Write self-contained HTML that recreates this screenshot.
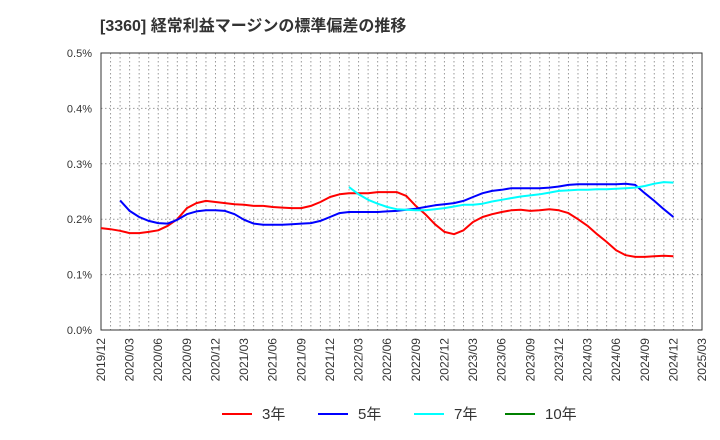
<!DOCTYPE html>
<html><head><meta charset="utf-8"><style>
body{margin:0;background:#fff;}
svg{display:block;font-family:"Liberation Sans","Noto Sans CJK JP",sans-serif;}
</style></head><body>
<svg id="chart" width="720" height="440" viewBox="0 0 720 440">
<text x="100" y="31" font-size="16" font-weight="bold" fill="#333">[3360]  経常利益マージンの標準偏差の推移</text>
<g id="grid"></g>
<g id="axes"></g>
<g id="series"></g>
<g id="legend"></g>
</svg>
<script>
const xLabels=["2019/12","2020/03","2020/06","2020/09","2020/12","2021/03","2021/06","2021/09","2021/12","2022/03","2022/06","2022/09","2022/12","2023/03","2023/06","2023/09","2023/12","2024/03","2024/06","2024/09","2024/12","2025/03"];
const yTicks=[0,0.1,0.2,0.3,0.4,0.5];
const yTickLabels=["0.0%","0.1%","0.2%","0.3%","0.4%","0.5%"];
const s3=[.184,.182,.179,.175,.175,.177,.180,.188,.200,.220,.229,.233,.231,.229,.227,.226,.224,.224,.222,.221,.220,.220,.224,.231,.240,.245,.247,.247,.247,.249,.249,.249,.242,.224,.209,.191,.177,.173,.180,.195,.204,.209,.213,.216,.217,.215,.216,.218,.216,.211,.200,.188,.173,.159,.144,.135,.132,.132,.133,.134,.133];
const s5=[null,null,.234,.215,.204,.197,.193,.192,.199,.209,.214,.216,.216,.215,.209,.199,.192,.190,.190,.190,.191,.192,.193,.197,.204,.211,.213,.213,.213,.213,.214,.215,.217,.219,.222,.225,.227,.229,.233,.240,.247,.251,.253,.256,.256,.256,.256,.257,.259,.262,.263,.263,.263,.263,.263,.264,.262,.247,.233,.218,.204];
const s7=[null,null,null,null,null,null,null,null,null,null,null,null,null,null,null,null,null,null,null,null,null,null,null,null,null,null,.258,.245,.235,.228,.222,.218,.217,.216,.216,.218,.220,.223,.226,.226,.228,.232,.235,.238,.241,.243,.245,.248,.251,.252,.253,.253,.254,.254,.255,.256,.257,.260,.264,.267,.266];
const s10=[];
const legendNames=["3年","5年","7年","10年"];
const colors=["#ff0000","#0000ff","#00ffff","#008000"];
const L=101,R=702,T=53,B=330,ymax=0.5,months=63;
const xs=m=>L+(R-L)*m/months;
const ys=v=>B-(B-T)*v/ymax;
const NS="http://www.w3.org/2000/svg";
function mk(t,a,p){const e=document.createElementNS(NS,t);for(const k in a)e.setAttribute(k,a[k]);p.appendChild(e);return e;}
const grid=document.getElementById('grid'),axes=document.getElementById('axes'),ser=document.getElementById('series'),leg=document.getElementById('legend');
for(let m=1;m<months;m++){const l=mk('line',{x1:xs(m),x2:xs(m),y1:T,y2:B,stroke:'#999','stroke-dasharray':'1.5,2.5','stroke-width':1},grid);

}
yTicks.forEach((v,i)=>{if(i>0&&i<yTicks.length-1){const l=mk('line',{x1:L,x2:R,y1:ys(v),y2:ys(v),stroke:'#999','stroke-dasharray':'1.5,2.5'},grid);

}
const t=mk('text',{x:92,y:ys(v)+4,'font-size':11,'text-anchor':'end',fill:'#333'},axes);t.textContent=yTickLabels[i];

});
const fr=mk('rect',{x:L,y:T,width:R-L,height:B-T,fill:'none',stroke:'#333','stroke-width':1},axes);


xLabels.forEach((lab,i)=>{const x=xs(i*3);const t=mk('text',{x:0,y:0,'font-size':12,'text-anchor':'end',fill:'#333',transform:`translate(${x+4},${338}) rotate(-90)`},axes);t.textContent=lab;

});
[s3,s5,s7,s10].forEach((s,k)=>{let d='';s.forEach((v,i)=>{if(v==null)return;d+=(d?'L':'M')+xs(i).toFixed(1)+','+ys(v).toFixed(1);});
if(!d)return;const p=mk('path',{d:d,fill:'none',stroke:colors[k],'stroke-width':2,'stroke-linejoin':'round'},ser);

});
const lx=[222,318,414,505];
legendNames.forEach((n,k)=>{const g=mk('g',{},leg);


mk('line',{x1:lx[k],x2:lx[k]+30,y1:414,y2:414,stroke:colors[k],'stroke-width':2},g);
const t=mk('text',{x:lx[k]+40,y:419,'font-size':15,fill:'#333'},g);t.textContent=n;});
</script>
</body></html>
